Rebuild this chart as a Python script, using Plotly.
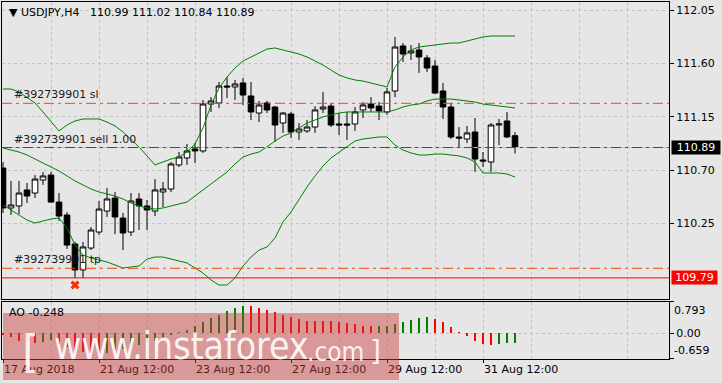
import plotly.graph_objects as go

# ---------------- data ----------------
bars = list(range(65))  # H4 bars, 17 Aug 2018 12:00 ... 31 Aug 2018 20:00

opens = [110.717, 110.380, 110.397, 110.532, 110.506, 110.616, 110.658, 110.430, 110.321, 110.076,
         109.857, 110.042, 110.177, 110.354, 110.464, 110.295, 110.177, 110.456, 110.397, 110.354,
         110.515, 110.540, 110.743, 110.802, 110.878, 110.861, 111.257, 111.266, 111.409, 111.401,
         111.435, 111.325, 111.181, 111.266, 111.232, 111.097, 111.173, 111.021, 111.030, 111.063,
         111.215, 111.240, 111.089, 111.089, 111.089, 111.207, 111.257, 111.240, 111.190, 111.367,
         111.747, 111.688, 111.713, 111.646, 111.578, 111.367, 111.232, 110.979, 110.962, 111.021,
         110.785, 110.768, 111.080, 111.114, 110.99]
highs = [110.768, 110.608, 110.608, 110.591, 110.658, 110.684, 110.684, 110.506, 110.346, 110.093,
         110.093, 110.219, 110.439, 110.549, 110.515, 110.338, 110.506, 110.506, 110.447, 110.624,
         110.599, 110.768, 110.852, 110.920, 110.928, 111.291, 111.316, 111.443, 111.485, 111.460,
         111.477, 111.443, 111.283, 111.283, 111.240, 111.190, 111.190, 111.097, 111.122, 111.240,
         111.359, 111.266, 111.181, 111.190, 111.232, 111.274, 111.316, 111.274, 111.392, 111.823,
         111.772, 111.755, 111.772, 111.671, 111.629, 111.435, 111.266, 111.063, 111.072, 111.139,
         110.852, 111.097, 111.131, 111.190, 111.02]
lows = [110.338, 110.321, 110.329, 110.422, 110.464, 110.574, 110.422, 110.270, 110.034, 109.789,
        109.789, 110.025, 110.152, 110.304, 110.160, 110.025, 110.143, 110.194, 110.194, 110.312,
        110.388, 110.515, 110.726, 110.743, 110.759, 110.844, 111.190, 111.224, 111.308, 111.291,
        111.249, 111.122, 111.105, 111.181, 110.937, 111.013, 110.970, 110.954, 111.013, 111.013,
        111.181, 111.063, 110.996, 110.954, 111.030, 111.139, 111.190, 111.122, 111.165, 111.316,
        111.612, 111.629, 111.519, 111.527, 111.342, 111.131, 110.962, 110.895, 110.928, 110.684,
        110.726, 110.684, 110.911, 110.970, 110.84]
closes = [110.380, 110.405, 110.506, 110.481, 110.624, 110.650, 110.430, 110.312, 110.067, 109.857,
          110.051, 110.194, 110.371, 110.456, 110.304, 110.169, 110.439, 110.397, 110.363, 110.532,
          110.540, 110.751, 110.810, 110.861, 110.861, 111.257, 111.283, 111.409, 111.401, 111.426,
          111.333, 111.190, 111.249, 111.207, 111.080, 111.181, 111.021, 111.046, 111.063, 111.207,
          111.232, 111.080, 111.080, 111.080, 111.190, 111.249, 111.224, 111.198, 111.359, 111.738,
          111.679, 111.705, 111.654, 111.561, 111.350, 111.232, 110.979, 110.970, 111.013, 110.793,
          110.776, 111.080, 111.089, 110.979, 110.89]

bb_upper = [111.384, 111.384, 111.359, 111.316, 111.266, 111.190, 111.105, 111.030, 111.080, 111.114,
            111.131, 111.131, 111.131, 111.105, 111.072, 111.021, 110.954, 110.895, 110.819, 110.743,
            110.768, 110.793, 110.810, 110.852, 110.920, 111.055, 111.249, 111.392, 111.485, 111.561,
            111.620, 111.654, 111.688, 111.721, 111.730, 111.713, 111.696, 111.679, 111.654, 111.620,
            111.586, 111.544, 111.502, 111.477, 111.460, 111.451, 111.435, 111.418, 111.401, 111.570,
            111.654, 111.713, 111.738, 111.747, 111.755, 111.764, 111.772, 111.772, 111.789, 111.806,
            111.823, 111.831, 111.831, 111.831, 111.831]
bb_middle = [110.886, 110.869, 110.852, 110.827, 110.793, 110.759, 110.726, 110.692, 110.650, 110.608,
             110.574, 110.540, 110.515, 110.498, 110.481, 110.456, 110.422, 110.397, 110.380, 110.371,
             110.380, 110.397, 110.413, 110.430, 110.481, 110.532, 110.582, 110.633, 110.684, 110.751,
             110.810, 110.835, 110.852, 110.895, 110.945, 110.987, 111.013, 111.055, 111.097, 111.122,
             111.148, 111.165, 111.181, 111.190, 111.190, 111.190, 111.190, 111.190, 111.190, 111.207,
             111.232, 111.249, 111.257, 111.283, 111.299, 111.299, 111.299, 111.291, 111.283, 111.274,
             111.257, 111.249, 111.240, 111.232, 111.224]
bb_lower = [110.405, 110.363, 110.321, 110.278, 110.253, 110.270, 110.287, 110.295, 110.211, 110.067,
            109.983, 109.958, 109.941, 109.924, 109.899, 109.873, 109.882, 109.890, 109.949, 109.966,
            109.966, 109.949, 109.932, 109.916, 109.873, 109.831, 109.772, 109.730, 109.730, 109.789,
            109.890, 109.966, 110.025, 110.051, 110.127, 110.262, 110.346, 110.456, 110.557, 110.650,
            110.734, 110.802, 110.852, 110.895, 110.945, 110.962, 110.970, 110.979, 110.979, 110.911,
            110.869, 110.844, 110.827, 110.827, 110.835, 110.835, 110.827, 110.819, 110.802, 110.768,
            110.675, 110.675, 110.675, 110.667, 110.641]

ao = [-0.04, -0.10, -0.19, -0.22, -0.24, -0.22, -0.18, -0.27, -0.36, -0.44,
      -0.48, -0.51, -0.53, -0.50, -0.46, -0.41, -0.36, -0.29, -0.24, -0.19,
      -0.13, -0.05, 0.03, 0.07, 0.17, 0.28, 0.38, 0.47, 0.57, 0.64,
      0.69, 0.68, 0.64, 0.60, 0.53, 0.47, 0.41, 0.36, 0.32, 0.31,
      0.305, 0.30, 0.28, 0.25, 0.23, 0.18, 0.175, 0.18, 0.185, 0.23,
      0.28, 0.33, 0.38, 0.41, 0.36, 0.28, 0.15, 0.03, -0.07, -0.19,
      -0.27, -0.30, -0.27, -0.255, -0.248]

date_tick_bars = [0, 12, 24, 36, 48, 60]
date_tick_labels = ["17 Aug 2018", "21 Aug 12:00", "23 Aug 12:00", "27 Aug 12:00",
                    "29 Aug 12:00", "31 Aug 12:00"]
price_ticks = [112.05, 111.60, 111.15, 110.70, 110.25]
ao_max_label, ao_min_label = 0.793, -0.659

symbol_title = "USDJPY,H4"
last_ohlc = [110.99, 111.02, 110.84, 110.89]
order_id = "#392739901"
sl_price = 111.263
entry_price = 110.89
tp_price = 109.871
low_line_price = 109.79
close_mark_bar, close_mark_price = 9, 109.73
ao_last = -0.248

# ---------------- figure ----------------
FONT = "DejaVu Sans"
WM_FONT = "DejaVu Sans Condensed"
GRID = dict(gridcolor="#c2c2c2", griddash="3px,3px", gridwidth=1)
BG = "#e6e6e6"
XR = [-0.125, 83.25]
WM_COLOR = "rgba(255,255,255,0.9)"

fig = go.Figure()
fig.add_trace(go.Candlestick(
    x=bars, open=opens, high=highs, low=lows, close=closes,
    increasing=dict(fillcolor="white", line=dict(color="black", width=1)),
    decreasing=dict(fillcolor="black", line=dict(color="black", width=1)),
    whiskerwidth=0, hoverinfo="skip", showlegend=False, xaxis="x", yaxis="y"))
for band in (bb_upper, bb_middle, bb_lower):
    fig.add_trace(go.Scatter(x=bars, y=band, mode="lines", line=dict(color="#008000", width=1),
                             hoverinfo="skip", showlegend=False, xaxis="x", yaxis="y"))
fig.add_trace(go.Scatter(x=[close_mark_bar], y=[close_mark_price], mode="markers",
                         marker=dict(symbol="x", size=8, color="#ff2a00", line=dict(width=0)),
                         hoverinfo="skip", showlegend=False, xaxis="x", yaxis="y"))

ao_colors = ["#ff0000" if i == 0 or ao[i] < ao[i - 1] else "#008000" for i in range(len(ao))]
fig.add_trace(go.Bar(x=bars, y=ao, width=0.15, marker=dict(color=ao_colors, line=dict(width=0)),
                     hoverinfo="skip", showlegend=False, xaxis="x2", yaxis="y2"))

tickfont = dict(family=FONT, size=11, color="black")
fig.update_layout(
    width=722, height=383,
    margin=dict(l=2, r=53, t=2, b=24),
    paper_bgcolor=BG, plot_bgcolor=BG,
    showlegend=False, hovermode=False, bargap=0,
    boxgap=0.3, boxgroupgap=0,
    font=dict(family=FONT, size=11, color="black"),
    xaxis=dict(domain=[0, 1], anchor="y", range=XR, tickvals=list(range(0, 84, 6)),
               showticklabels=False, ticks="", showgrid=True, **GRID, zeroline=False,
               showline=True, mirror=True, linecolor="black", linewidth=1,
               rangeslider=dict(visible=False), fixedrange=True),
    yaxis=dict(domain=[0.1681, 1], anchor="x", side="right", range=[109.612, 112.118],
               tickvals=price_ticks, ticktext=[f"{v:.2f}" for v in price_ticks],
               ticks="outside", ticklen=4, tickcolor="black", tickfont=tickfont,
               showgrid=True, **GRID, zeroline=False,
               showline=True, mirror=True, linecolor="black", linewidth=1, fixedrange=True),
    xaxis2=dict(domain=[0, 1], anchor="y2", range=XR, tickvals=date_tick_bars,
                ticktext=date_tick_labels, ticks="outside", ticklen=3, tickcolor="black",
                ticklabelposition="outside right", tickfont=tickfont,
                showgrid=True, **GRID, zeroline=False,
                minor=dict(tickvals=list(range(6, 84, 12)), showgrid=True, ticks="", **GRID),
                showline=True, mirror=True, linecolor="black", linewidth=1, fixedrange=True),
    yaxis2=dict(domain=[0, 0.1597], anchor="x2", side="right", range=[ao_min_label, ao_max_label],
                tickvals=[ao_min_label, 0, ao_max_label], ticktext=["", "0.00", ""],
                ticks="outside", ticklen=4, tickcolor="black", tickfont=tickfont,
                showgrid=True, **GRID, zeroline=False,
                showline=True, mirror=True, linecolor="black", linewidth=1, fixedrange=True),
)

DASHDOT = "10px,4px,3px,4px"
shapes = [
    dict(type="line", xref="paper", x0=0, x1=1, yref="y", y0=entry_price, y1=entry_price,
         line=dict(color="#c0c0c0", width=1)),
    dict(type="line", xref="paper", x0=0, x1=1, yref="y", y0=sl_price, y1=sl_price,
         line=dict(color="#ff4500", width=1, dash=DASHDOT)),
    dict(type="line", xref="paper", x0=0, x1=1, yref="y", y0=entry_price, y1=entry_price,
         line=dict(color="#008000", width=1, dash=DASHDOT)),
    dict(type="line", xref="paper", x0=0, x1=1, yref="y", y0=tp_price, y1=tp_price,
         line=dict(color="#ff4500", width=1, dash=DASHDOT)),
    dict(type="line", xref="paper", x0=0, x1=1, yref="y", y0=low_line_price, y1=low_line_price,
         line=dict(color="#ff0000", width=1)),
    dict(type="rect", xref="paper", yref="paper", x0=0.0015, x1=0.5952, y0=-0.0588, y1=0.1289,
         fillcolor="rgba(205,60,60,0.45)", line=dict(width=0), layer="above"),
]

annos = [
    dict(xref="paper", yref="paper", x=0.0075, y=0.9692, xanchor="left", yanchor="middle",
         text="▼ " + symbol_title + "\u00a0\u00a0 " + " ".join(f"{v:.2f}" for v in last_ohlc),
         showarrow=False, font=dict(family=FONT, size=11, color="black")),
    dict(xref="paper", yref="y", x=0.015, y=sl_price, xanchor="left", yanchor="bottom",
         text=order_id + " sl", showarrow=False, font=dict(family=FONT, size=11, color="#1a1a1a")),
    dict(xref="paper", yref="y", x=0.015, y=entry_price, xanchor="left", yanchor="bottom",
         text=order_id + " sell 1.00", showarrow=False, font=dict(family=FONT, size=11, color="#1a1a1a")),
    dict(xref="paper", yref="y", x=0.015, y=tp_price, xanchor="left", yanchor="bottom",
         text=order_id + " tp", showarrow=False, font=dict(family=FONT, size=11, color="#1a1a1a")),
    dict(xref="paper", yref="y", x=1, xshift=2, y=entry_price, xanchor="left", yanchor="middle",
         text=f"{entry_price:.2f}", showarrow=False, bgcolor="black", width=48, height=13,
         borderpad=0, align="center", font=dict(family=FONT, size=11, color="white")),
    dict(xref="paper", yref="y", x=1, xshift=2, y=low_line_price, xanchor="left", yanchor="middle",
         text=f"{low_line_price:.2f}", showarrow=False, bgcolor="#ff0000", width=45, height=13,
         borderpad=0, align="center", font=dict(family=FONT, size=11, color="white")),
    dict(xref="paper", yref="y2", x=1, xshift=3, y=ao_max_label, xanchor="left", yanchor="top",
         text=f"{ao_max_label:.3f}", showarrow=False, font=dict(family=FONT, size=11, color="black")),
    dict(xref="paper", yref="y2", x=1, xshift=3, y=ao_min_label, xanchor="left", yanchor="bottom",
         text=f"{ao_min_label:.3f}", showarrow=False, font=dict(family=FONT, size=11, color="black")),
    dict(xref="paper", yref="paper", x=0.0075, y=0.1289, xanchor="left", yanchor="middle",
         text=f"AO {ao_last:.3f}", showarrow=False, font=dict(family=FONT, size=11, color="black")),
    # watermark text
    dict(xref="paper", yref="paper", x=0.042, y=0.022, xanchor="center", yanchor="middle",
         text="[", showarrow=False, font=dict(family=FONT, size=44, color=WM_COLOR)),
    dict(xref="paper", yref="paper", x=0.075, y=0.035, xanchor="left", yanchor="middle",
         text="www.instaforex", showarrow=False, font=dict(family=WM_FONT, size=37, color=WM_COLOR)),
    dict(xref="paper", yref="paper", x=0.455, y=0.02, xanchor="left", yanchor="middle",
         text=".com", showarrow=False, font=dict(family=WM_FONT, size=26, color=WM_COLOR)),
    dict(xref="paper", yref="paper", x=0.56, y=0.02, xanchor="center", yanchor="middle",
         text="]", showarrow=False, font=dict(family=FONT, size=28, color=WM_COLOR)),
]
fig.update_layout(shapes=shapes, annotations=annos)

fig.write_html("out.html", config=dict(displayModeBar=False, staticPlot=True))
